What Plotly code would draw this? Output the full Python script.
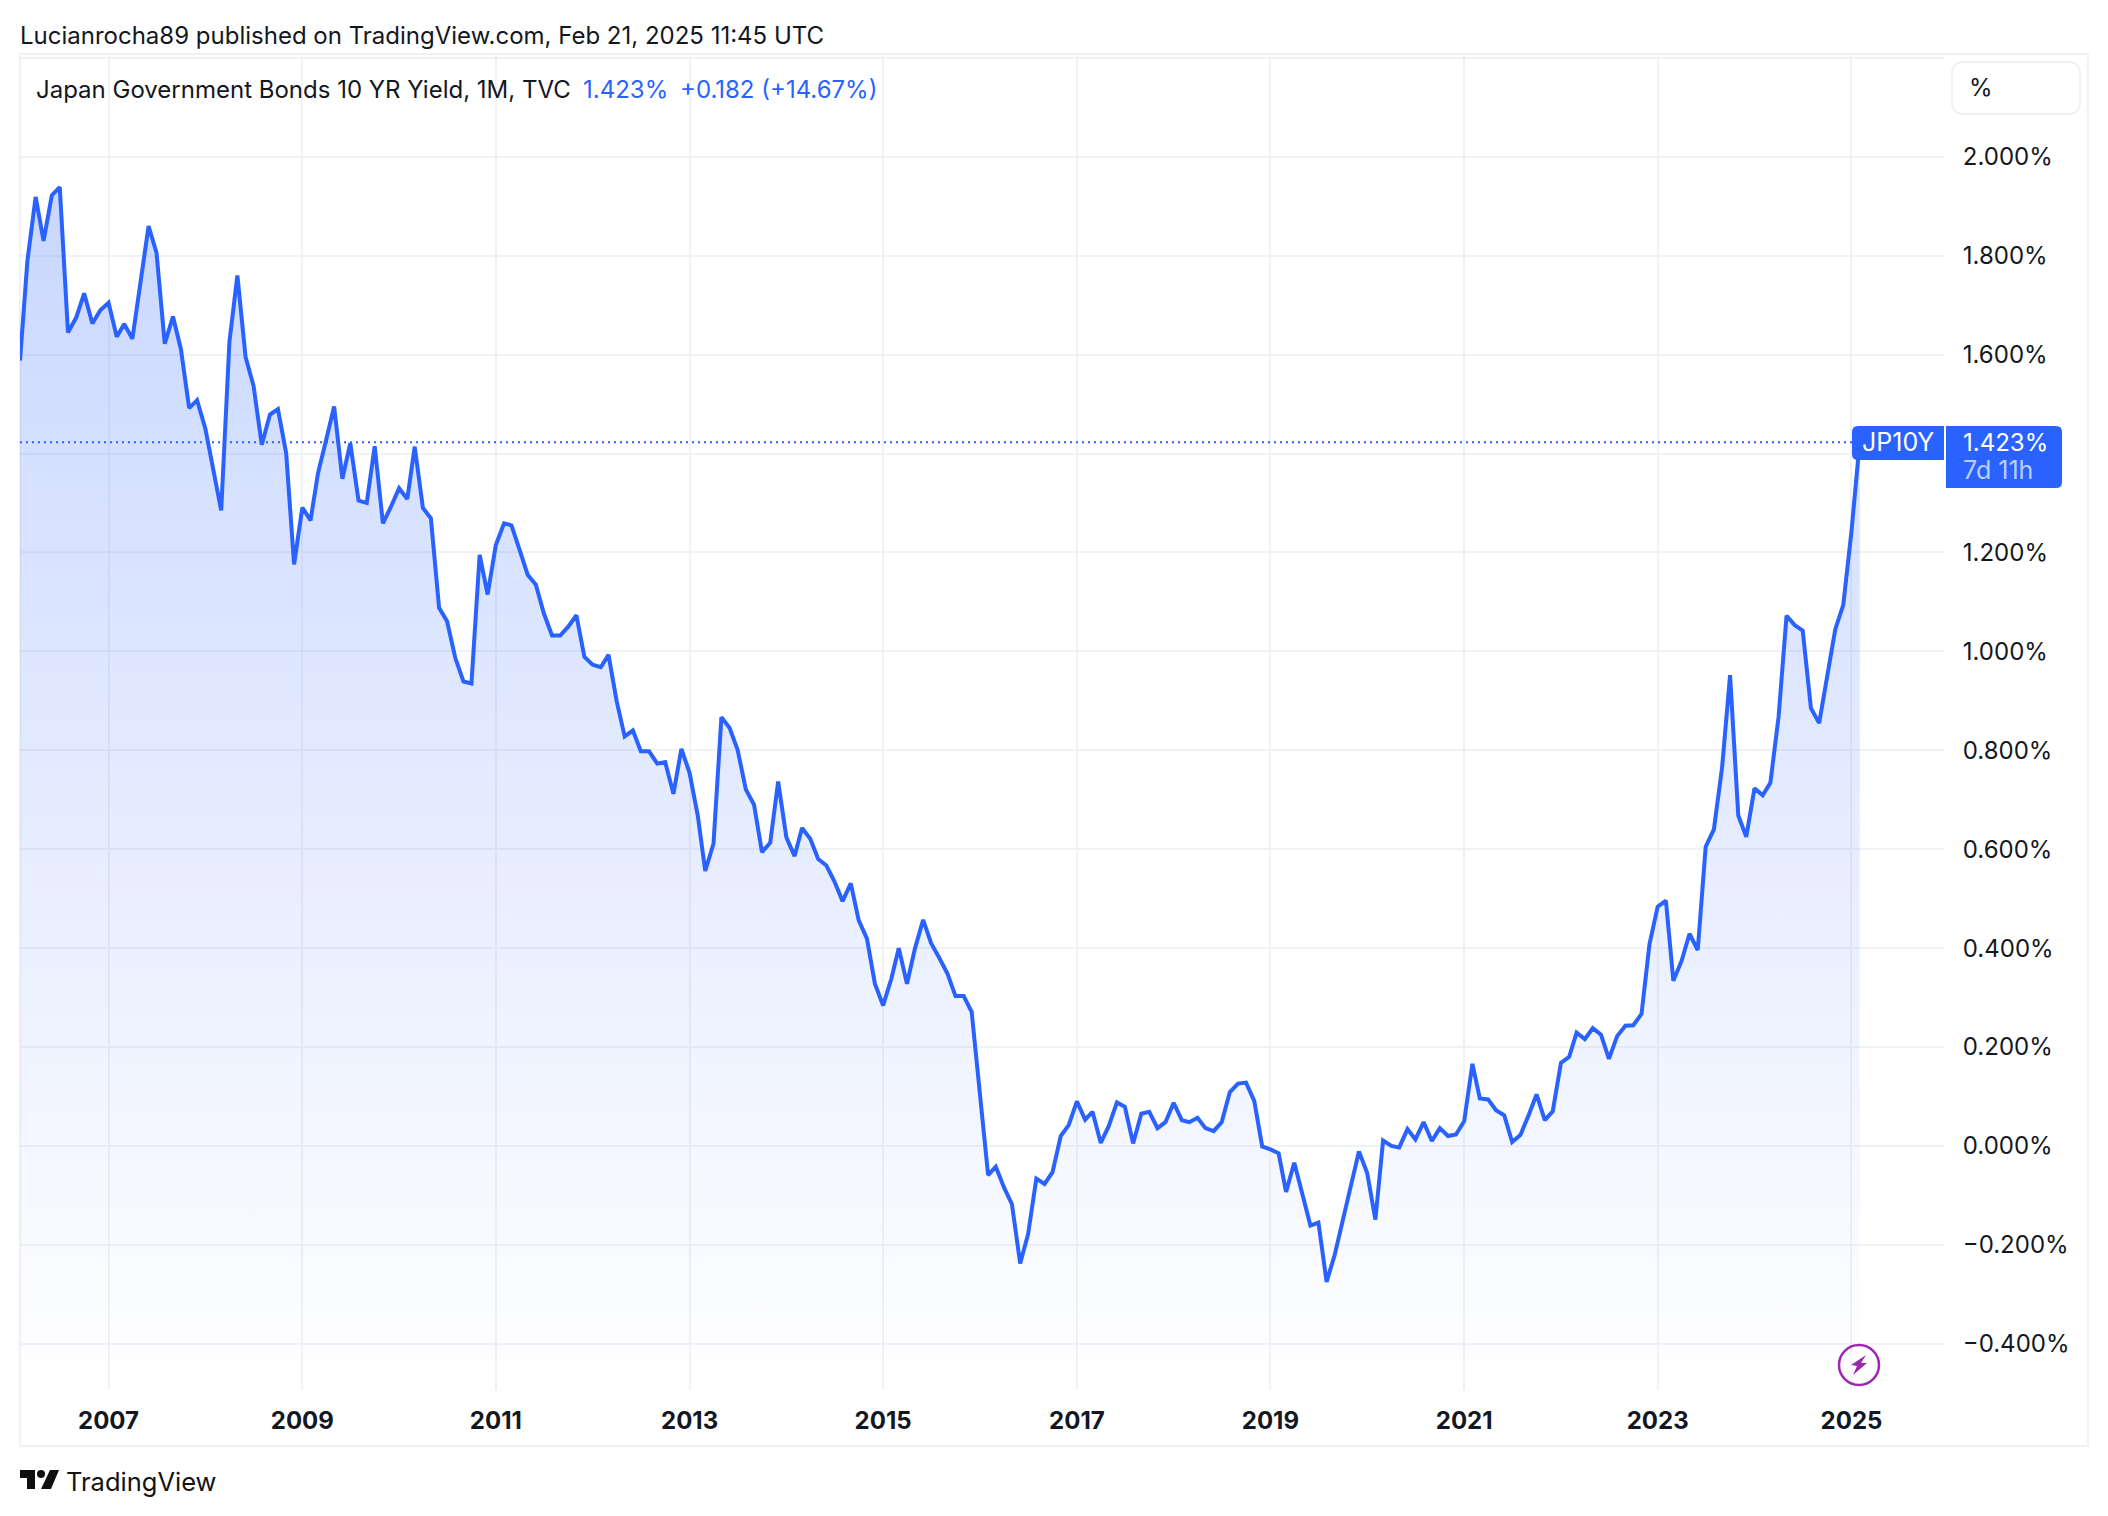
import pandas as pd
import plotly.graph_objects as go

# Monthly closes, Feb 2006 to Feb 2025
yields_2006_2009 = [
    1.588, 1.790, 1.919, 1.830, 1.922, 1.939, 1.645, 1.675, 1.724, 1.663, 1.690,
    1.705, 1.636, 1.662, 1.632, 1.740, 1.860, 1.806, 1.622, 1.677, 1.611, 1.492,
    1.508, 1.451, 1.367, 1.285, 1.626, 1.760, 1.595, 1.537, 1.418, 1.479, 1.490,
    1.401, 1.176, 1.291, 1.265, 1.360, 1.428, 1.495, 1.349, 1.421, 1.305, 1.300,
    1.415, 1.259, 1.292, 1.330,
]
yields_2010_2013 = [
    1.308, 1.414, 1.290, 1.269, 1.088, 1.061, 0.987, 0.939, 0.935, 1.195, 1.115,
    1.215, 1.259, 1.255, 1.205, 1.155, 1.135, 1.077, 1.032, 1.032, 1.050, 1.073,
    0.989, 0.973, 0.968, 0.993, 0.899, 0.828, 0.840, 0.798, 0.798, 0.773, 0.776,
    0.712, 0.803, 0.754, 0.667, 0.556, 0.611, 0.867, 0.845, 0.801, 0.721, 0.690,
    0.594, 0.613, 0.737, 0.624,
]
yields_2014_2017 = [
    0.586, 0.643, 0.621, 0.580, 0.567, 0.535, 0.495, 0.531, 0.456, 0.419, 0.328,
    0.284, 0.338, 0.400, 0.328, 0.399, 0.457, 0.410, 0.380, 0.348, 0.303, 0.303,
    0.271, 0.106, -0.059, -0.042, -0.084, -0.118, -0.238, -0.178, -0.066, -0.077,
    -0.053, 0.020, 0.042, 0.090, 0.053, 0.069, 0.006, 0.040, 0.088, 0.079, 0.005,
    0.065, 0.069, 0.036, 0.048, 0.087,
]
yields_2018_2021 = [
    0.052, 0.048, 0.057, 0.036, 0.030, 0.048, 0.109, 0.126, 0.128, 0.091, -0.001,
    -0.007, -0.015, -0.093, -0.034, -0.096, -0.161, -0.155, -0.275, -0.219, -0.149,
    -0.079, -0.011, -0.055, -0.149, 0.011, 0.000, -0.003, 0.034, 0.013, 0.048,
    0.010, 0.036, 0.020, 0.023, 0.050, 0.166, 0.096, 0.094, 0.072, 0.062, 0.008,
    0.022, 0.062, 0.104, 0.052, 0.070, 0.168,
]
yields_2022_2025 = [
    0.180, 0.229, 0.216, 0.238, 0.225, 0.176, 0.222, 0.243, 0.244, 0.267, 0.408,
    0.484, 0.496, 0.334, 0.374, 0.429, 0.396, 0.605, 0.640, 0.766, 0.952, 0.668,
    0.625, 0.723, 0.709, 0.734, 0.868, 1.072, 1.053, 1.042, 0.885, 0.855, 0.949,
    1.045, 1.094, 1.243, 1.423,
]
yields = (
    yields_2006_2009 + yields_2010_2013 + yields_2014_2017 + yields_2018_2021 + yields_2022_2025
)
months = pd.date_range("2006-02-01", periods=len(yields), freq="MS")

year_ticks = ["2007", "2009", "2011", "2013", "2015", "2017", "2019", "2021", "2023", "2025"]
yield_ticks = [-0.4, -0.2, 0, 0.2, 0.4, 0.6, 0.8, 1.0, 1.2, 1.4, 1.6, 1.8, 2.0, 2.2]
yield_labels = [
    "−0.400%", "−0.200%", "0.000%", "0.200%", "0.400%", "0.600%", "0.800%",
    "1.000%", "1.200%", "", "1.600%", "1.800%", "2.000%", "",
]

BLUE = "#2962ff"
INK = "#131722"
GRID = "#f1f2f4"
FONT = "Inter"
WIDTH, HEIGHT = 2108, 1516
LEFT, RIGHT, TOP, BOTTOM = 20, 1944, 54, 1390
Y_RANGE = [-0.4936, 2.208]


# The decorations are placed in page pixels, converted to paper coordinates
def px(x):
    return (x - LEFT) / (RIGHT - LEFT)


def py(y):
    return (BOTTOM - y) / (BOTTOM - TOP)


def poly(points):
    return "M" + " L".join(f"{px(x)},{py(y)}" for x, y in points) + " Z"


def page_shape(path, fill, line_color=None, line_width=0):
    return dict(
        type="path", xref="paper", yref="paper", path=path, fillcolor=fill,
        line=dict(color=line_color or fill, width=line_width), layer="above",
    )


def page_text(x, y, text, color=INK, size=24, anchor="left"):
    return dict(
        xref="paper", yref="paper", x=px(x), y=py(y), text=text, showarrow=False,
        xanchor=anchor, yanchor="middle", borderpad=0,
        font=dict(family=FONT, size=size, color=color),
    )


def rounded(x0, y0, x1, y1, tl=0, tr=0, br=0, bl=0):
    return (
        f"M{px(x0 + tl)},{py(y0)} L{px(x1 - tr)},{py(y0)} "
        f"Q{px(x1)},{py(y0)} {px(x1)},{py(y0 + tr)} L{px(x1)},{py(y1 - br)} "
        f"Q{px(x1)},{py(y1)} {px(x1 - br)},{py(y1)} L{px(x0 + bl)},{py(y1)} "
        f"Q{px(x0)},{py(y1)} {px(x0)},{py(y1 - bl)} L{px(x0)},{py(y0 + tl)} "
        f"Q{px(x0)},{py(y0)} {px(x0 + tl)},{py(y0)} Z"
    )


fig = go.Figure()

# Invisible floor so the gradient runs down to the bottom of the pane
fig.add_trace(
    go.Scatter(
        x=months, y=[Y_RANGE[0]] * len(yields), mode="lines",
        line=dict(width=0, color="rgba(0,0,0,0)"), hoverinfo="skip", showlegend=False,
    )
)
fig.add_trace(
    go.Scatter(
        x=months, y=yields, mode="lines", name="JP10Y",
        line=dict(color=BLUE, width=4),
        fill="tonexty",
        fillgradient=dict(
            type="vertical",
            start=2.0, stop=Y_RANGE[0],
            colorscale=[[0, "rgba(41,98,255,0.26)"], [1, "rgba(41,98,255,0.0)"]],
        ),
        showlegend=False,
    )
)

shapes = [
    # Outer frame
    dict(type="rect", xref="paper", yref="paper", x0=0, x1=px(2088), y0=py(1446), y1=1,
         line=dict(color="#f0f1f3", width=2), layer="below"),
    # Last value line
    dict(type="line", xref="paper", yref="y", x0=0, x1=px(1852), y0=yields[-1], y1=yields[-1],
         line=dict(color=BLUE, width=2, dash="2px,4px"), layer="above"),
    # Price labels
    page_shape(rounded(1852, 426, 1944, 460, tl=6, bl=6), BLUE),
    page_shape(rounded(1946, 426, 2062, 488, tr=6, br=6), BLUE),
    # Unit box
    page_shape(rounded(1952, 62, 2080, 114, tl=12, tr=12, br=12, bl=12), "#ffffff", "#f0f1f3", 2),
    # Data note icon
    dict(type="circle", xref="paper", yref="paper", x0=px(1839), x1=px(1879), y0=py(1385), y1=py(1345),
         fillcolor="rgba(255,255,255,0.6)", line=dict(color="#9c27b0", width=2.5), layer="above"),
    page_shape(poly([(1866, 1355), (1851, 1365), (1857, 1366), (1853, 1375), (1867, 1363), (1861, 1363)]), "#9c27b0"),
    # TradingView logo
    page_shape(poly([(20, 1470), (35, 1470), (35, 1489), (27, 1489), (27, 1478), (20, 1478)]), "#0f0f0f"),
    page_shape(poly([(50, 1470), (59, 1470), (51, 1489), (41, 1489)]), "#0f0f0f"),
    dict(type="circle", xref="paper", yref="paper", x0=px(37), x1=px(45), y0=py(1478), y1=py(1470),
         fillcolor="#0f0f0f", line=dict(width=0), layer="above"),
]

annotations = [
    page_text(19, 36, "Lucianrocha89 published on TradingView.com, Feb 21, 2025 11:45 UTC"),
    page_text(35, 89, "Japan Government Bonds 10 YR Yield, 1M, TVC"),
    page_text(582, 89, "1.423%", BLUE),
    page_text(679, 89, "+0.182 (+14.67%)", BLUE),
    page_text(1968, 88, "%"),
    page_text(1861, 442, "JP10Y", "#ffffff", 25),
    page_text(1962, 442, "1.423%", "#ffffff"),
    page_text(1962, 470, "7d&nbsp;11h", "rgba(255,255,255,0.7)", 25),
    page_text(65, 1481, "TradingView", "#131313", 25.5),
]

fig.update_layout(
    width=WIDTH,
    height=HEIGHT,
    margin=dict(l=LEFT, r=WIDTH - RIGHT, t=TOP, b=HEIGHT - BOTTOM, pad=0),
    paper_bgcolor="#ffffff",
    plot_bgcolor="#ffffff",
    font=dict(family=FONT, color=INK),
    showlegend=False,
    shapes=shapes,
    annotations=annotations,
    xaxis=dict(
        type="date",
        range=["2006-02-01", "2025-12-16"],
        tickvals=[f"{y}-01-01" for y in year_ticks],
        ticktext=year_ticks,
        tickfont=dict(family=FONT, size=24, color=INK, weight=700),
        showgrid=True,
        gridcolor=GRID,
        gridwidth=2,
        ticks="outside",
        ticklen=9,
        tickcolor="rgba(0,0,0,0)",
        showline=False,
        zeroline=False,
    ),
    yaxis=dict(
        range=Y_RANGE,
        side="right",
        tickvals=yield_ticks,
        ticktext=yield_labels,
        tickfont=dict(family=FONT, size=24, color=INK),
        showgrid=True,
        gridcolor=GRID,
        gridwidth=2,
        ticks="outside",
        ticklen=13,
        tickcolor="rgba(0,0,0,0)",
        showline=False,
        zeroline=False,
    ),
)

fig.write_html(
    "out.html",
    config={"displayModeBar": False},
    post_script="document.body.style.margin='0';",
)
